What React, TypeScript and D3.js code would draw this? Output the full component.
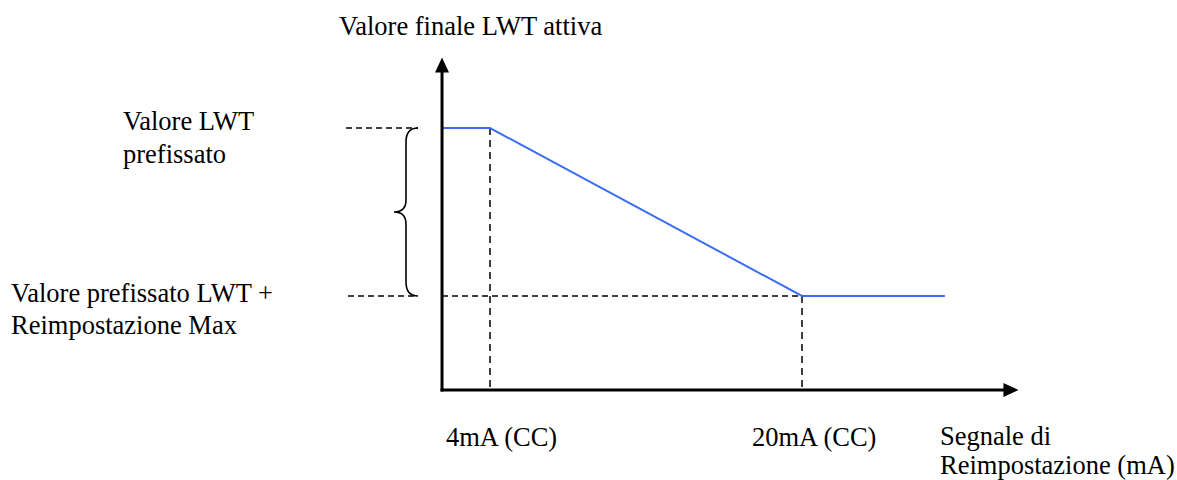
import { useEffect, useRef } from "react";
import * as d3 from "d3";

// signal (mA-like units) along the horizontal axis
const axisX = { start: 1.54, end: 31.1 };
const signalTicks = [4, 20];
const signalLabels = ["4mA (CC)", "20mA (CC)"];
// reset fraction: 0 = preset LWT, 1 = preset + max reset
const axisY = { top: -0.42, bottom: 1.56 };
const lwtCurve: [number, number][] = [
  [1.54, 0],
  [4, 0],
  [20, 1],
  [27.33, 1],
];
const yTitle = "Valore finale LWT attiva";
const xTitle = ["Segnale di", "Reimpostazione (mA)"];
const upperLabel = ["Valore LWT", "prefissato"];
const lowerLabel = ["Valore prefissato LWT +", "Reimpostazione Max"];

export default function App() {
  const svgRef = useRef<SVGSVGElement>(null);

  useEffect(() => {
    if (!svgRef.current) return;
    const width = 1177;
    const height = 480;
    const svg = d3.select(svgRef.current);
    svg.selectAll("*").remove();
    svg.attr("width", width).attr("height", height);

    const x = d3.scaleLinear().domain([4, 20]).range([490, 802]);
    const y = d3.scaleLinear().domain([0, 1]).range([128, 296]);
    const font = "'Liberation Serif', 'Times New Roman', serif";
    const fs = 26.5;

    const x0 = x(axisX.start);
    const y0 = y(axisY.bottom);

    // dashed guides
    const dash = svg.append("g").attr("stroke", "#000").attr("stroke-width", 1.5).attr("stroke-dasharray", "6,4").attr("fill", "none");
    dash.append("line").attr("x1", 346).attr("x2", 418).attr("y1", y(0)).attr("y2", y(0));
    dash.append("line").attr("x1", 348).attr("x2", 418).attr("y1", y(1)).attr("y2", y(1));
    dash.append("line").attr("x1", x0).attr("x2", x(20)).attr("y1", y(1)).attr("y2", y(1));
    signalTicks.forEach((t, i) => {
      dash
        .append("line")
        .attr("x1", x(t))
        .attr("x2", x(t))
        .attr("y1", y(i === 0 ? 0 : 1))
        .attr("y2", y0)
        .attr("stroke-dasharray", "7,5");
    });

    // curly brace
    const bx = 418;
    const mid = (y(0) + y(1)) / 2;
    const p = d3.path();
    p.moveTo(bx, y(0));
    p.quadraticCurveTo(bx - 12, y(0), bx - 12, y(0) + 14);
    p.lineTo(bx - 12, mid - 12);
    p.quadraticCurveTo(bx - 12, mid, bx - 24, mid);
    p.quadraticCurveTo(bx - 12, mid, bx - 12, mid + 12);
    p.lineTo(bx - 12, y(1) - 14);
    p.quadraticCurveTo(bx - 12, y(1), bx, y(1));
    svg.append("path").attr("d", p.toString()).attr("fill", "none").attr("stroke", "#000").attr("stroke-width", 1.6);

    // blue curve
    const line = d3
      .line<[number, number]>()
      .x((d) => x(d[0]))
      .y((d) => y(d[1]));
    svg.append("path").datum(lwtCurve).attr("d", line).attr("fill", "none").attr("stroke", "#3b6ef5").attr("stroke-width", 2);

    // axes
    const yTop = y(axisY.top);
    const xEnd = x(axisX.end);
    svg.append("line").attr("x1", x0).attr("x2", x0).attr("y1", y0 + 1.5).attr("y2", yTop + 12).attr("stroke", "#000").attr("stroke-width", 3);
    svg.append("line").attr("x1", x0 - 1.5).attr("x2", xEnd - 12).attr("y1", y0).attr("y2", y0).attr("stroke", "#000").attr("stroke-width", 3);
    svg
      .append("path")
      .attr("d", `M${x0},${yTop} L${x0 - 7},${yTop + 15} L${x0 + 7},${yTop + 15} Z`)
      .attr("fill", "#000");
    svg
      .append("path")
      .attr("d", `M${xEnd},${y0} L${xEnd - 15},${y0 - 7} L${xEnd - 15},${y0 + 7} Z`)
      .attr("fill", "#000");

    // text
    const txt = (s: string, tx: number, ty: number) =>
      svg.append("text").attr("x", tx).attr("y", ty).attr("font-family", font).attr("font-size", fs).attr("fill", "#000").text(s);

    txt(yTitle, 339, 35);
    txt(upperLabel[0], 123, 130);
    txt(upperLabel[1], 123, 163);
    txt(lowerLabel[0], 11, 302);
    txt(lowerLabel[1], 11, 334);
    signalLabels.forEach((s, i) => txt(s, x(signalTicks[i]) - (i === 0 ? 44 : 50), 446));
    txt(xTitle[0], 940, 445);
    txt(xTitle[1], 940, 474);
  }, []);

  return <svg ref={svgRef} style={{ position: "absolute", left: 0, top: 0 }} />;
}
